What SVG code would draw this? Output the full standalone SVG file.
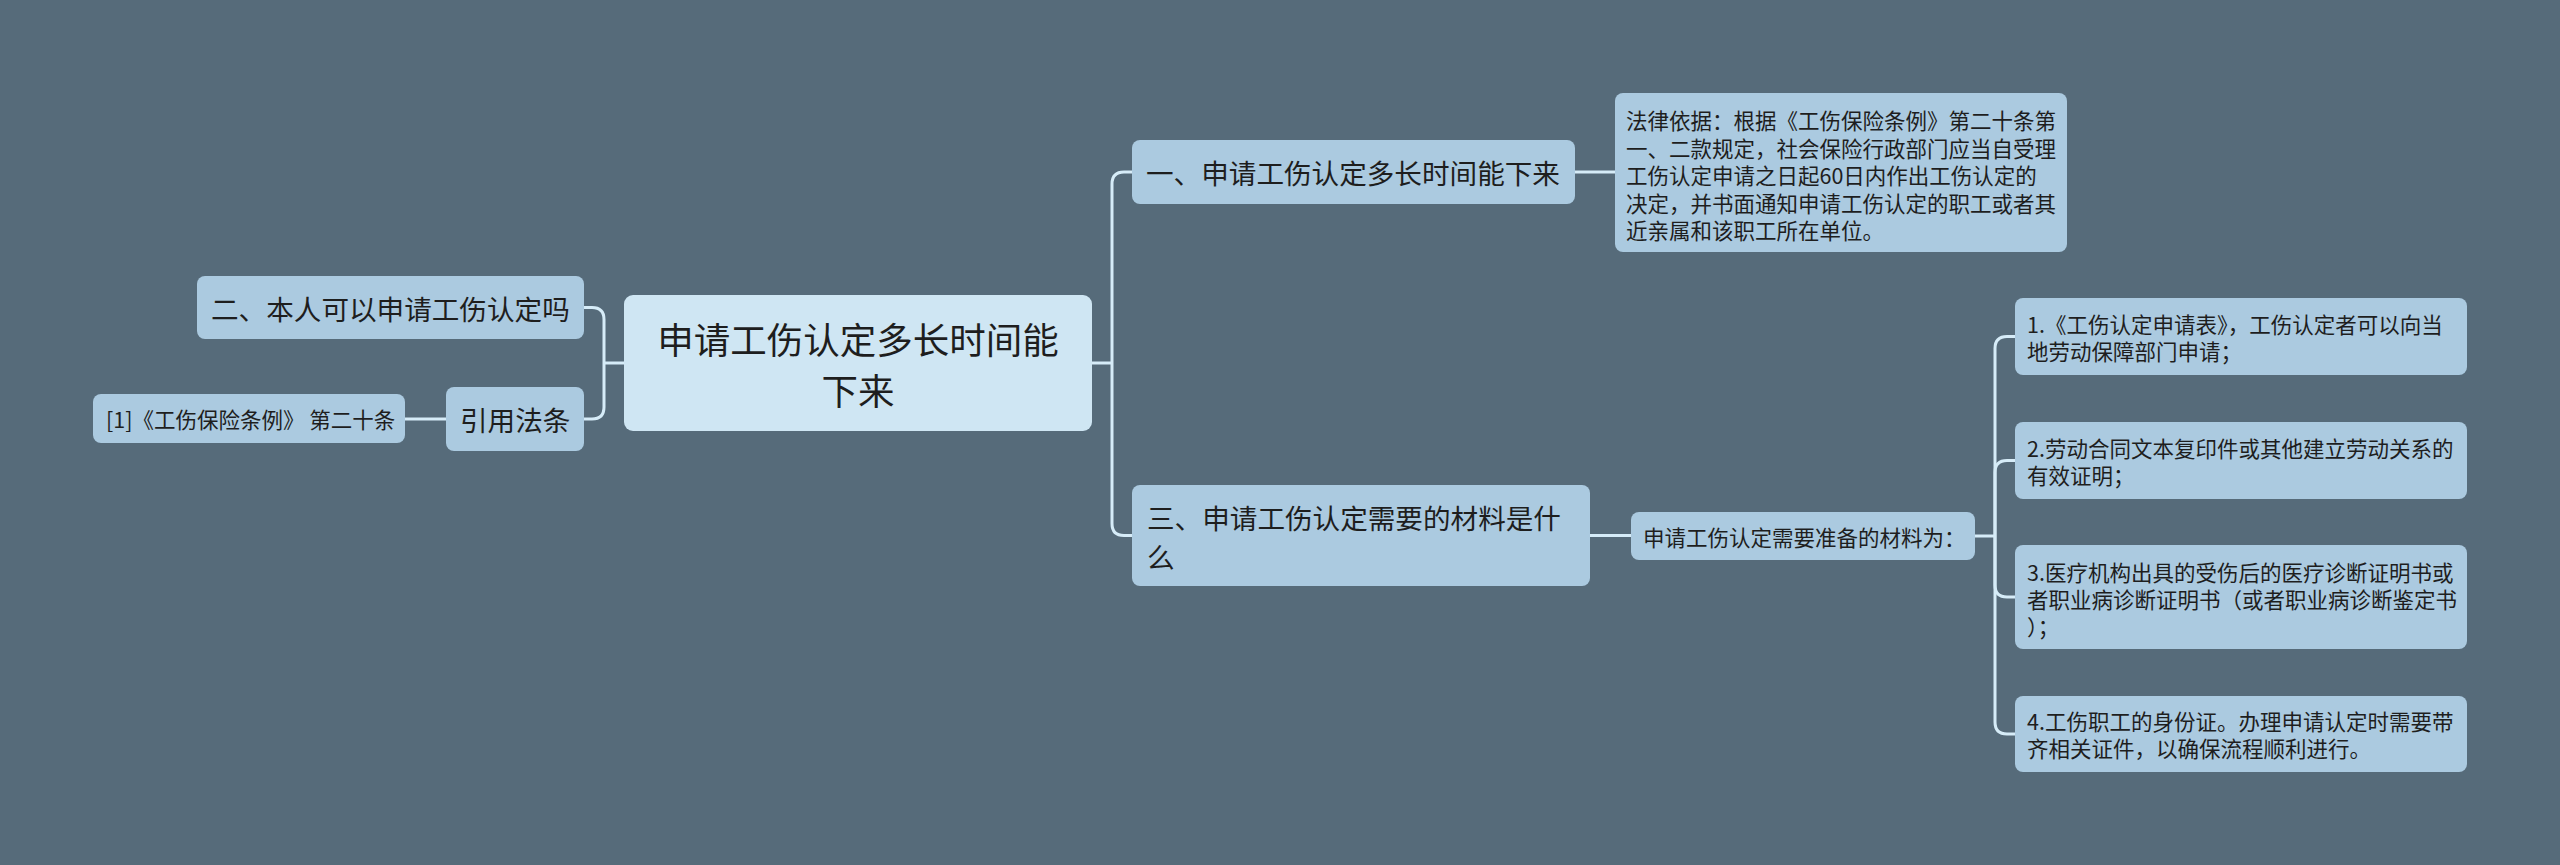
<svg xmlns="http://www.w3.org/2000/svg" width="2560" height="865" viewBox="0 0 2560 865">
<style>
.bg{fill:#566b7a}
.n{fill:#abcae0}
.root{fill:#cfe6f3}
text{font-family:"Noto Sans CJK SC","Noto Sans",sans-serif;fill:#1e1e1e;dominant-baseline:central}
.t1{font-size:36.5px}
.t2{font-size:27.6px}
.t3{font-size:21.5px}
.c{fill:none;stroke:#d6ecf8;stroke-width:3}
</style>
<rect class="bg" x="0" y="0" width="2560" height="865"/>
<g id="connectors">
<path class="c" d="M1092 363 H1112"/>
<path class="c" d="M1112 363 V184 Q1112 172 1124 172 H1133"/>
<path class="c" d="M1112 363 V523.5 Q1112 535.5 1124 535.5 H1133"/>
<path class="c" d="M1575 172 H1615"/>
<path class="c" d="M1590 535.5 H1631"/>
<path class="c" d="M1975 536 H1995"/>
<path class="c" d="M1995 536 V348.5 Q1995 336.5 2007 336.5 H2015"/>
<path class="c" d="M1995 536 V472.5 Q1995 460.5 2007 460.5 H2015"/>
<path class="c" d="M1995 536 V585 Q1995 597 2007 597 H2015"/>
<path class="c" d="M1995 536 V722 Q1995 734 2007 734 H2015"/>
<path class="c" d="M624 363 H604"/>
<path class="c" d="M604 363 V319.5 Q604 307.5 592 307.5 H584"/>
<path class="c" d="M604 363 V407 Q604 419 592 419 H584"/>
<path class="c" d="M446 419 H405"/>
</g>
<g id="root">
<rect class="root" x="624" y="295" width="468" height="136" rx="9"/>
<text class="t1" x="858" y="338" text-anchor="middle">申请工伤认定多长时间能</text>
<text class="t1" x="858" y="389" text-anchor="middle">下来</text>
</g>
<g id="b1">
<rect class="n" x="1132" y="140" width="443" height="64" rx="8"/>
<text class="t2" x="1146" y="172">一、申请工伤认定多长时间能下来</text>
</g>
<g id="leaf-law">
<rect class="n" x="1615" y="93" width="452" height="159" rx="8"/>
<text class="t3" x="1626" y="119.5">法律依据：根据《工伤保险条例》第二十条第</text>
<text class="t3" x="1626" y="147">一、二款规定，社会保险行政部门应当自受理</text>
<text class="t3" x="1626" y="174.5">工伤认定申请之日起60日内作出工伤认定的</text>
<text class="t3" x="1626" y="202">决定，并书面通知申请工伤认定的职工或者其</text>
<text class="t3" x="1626" y="229.5">近亲属和该职工所在单位。</text>
</g>
<g id="b3">
<rect class="n" x="1132" y="485" width="458" height="101" rx="8"/>
<text class="t2" x="1147" y="516.5">三、申请工伤认定需要的材料是什</text>
<text class="t2" x="1147" y="555.5">么</text>
</g>
<g id="mid">
<rect class="n" x="1631" y="512" width="344" height="48" rx="8"/>
<text class="t3" x="1643" y="536">申请工伤认定需要准备的材料为：</text>
</g>
<g id="item1">
<rect class="n" x="2015" y="298" width="452" height="77" rx="8"/>
<text class="t3" x="2027" y="323.5">1.《工伤认定申请表》，工伤认定者可以向当</text>
<text class="t3" x="2027" y="350.5">地劳动保障部门申请；</text>
</g>
<g id="item2">
<rect class="n" x="2015" y="422" width="452" height="77" rx="8"/>
<text class="t3" x="2027" y="447">2.劳动合同文本复印件或其他建立劳动关系的</text>
<text class="t3" x="2027" y="474">有效证明；</text>
</g>
<g id="item3">
<rect class="n" x="2015" y="545" width="452" height="104" rx="8"/>
<text class="t3" x="2027" y="571.5">3.医疗机构出具的受伤后的医疗诊断证明书或</text>
<text class="t3" x="2027" y="598.5">者职业病诊断证明书（或者职业病诊断鉴定书</text>
<text class="t3" x="2027" y="625.5">）；</text>
</g>
<g id="item4">
<rect class="n" x="2015" y="696" width="452" height="76" rx="8"/>
<text class="t3" x="2027" y="720.5">4.工伤职工的身份证。办理申请认定时需要带</text>
<text class="t3" x="2027" y="747.5">齐相关证件，以确保流程顺利进行。</text>
</g>
<g id="b2">
<rect class="n" x="197" y="276" width="387" height="63" rx="8"/>
<text class="t2" x="211" y="307.5">二、本人可以申请工伤认定吗</text>
</g>
<g id="cite">
<rect class="n" x="446" y="387" width="138" height="64" rx="8"/>
<text class="t2" x="460" y="419">引用法条</text>
</g>
<g id="cite-leaf">
<rect class="n" x="93" y="394" width="312" height="49" rx="8"/>
<text class="t3" x="106" y="418.5">[1]《工伤保险条例》 第二十条</text>
</g>
</svg>
